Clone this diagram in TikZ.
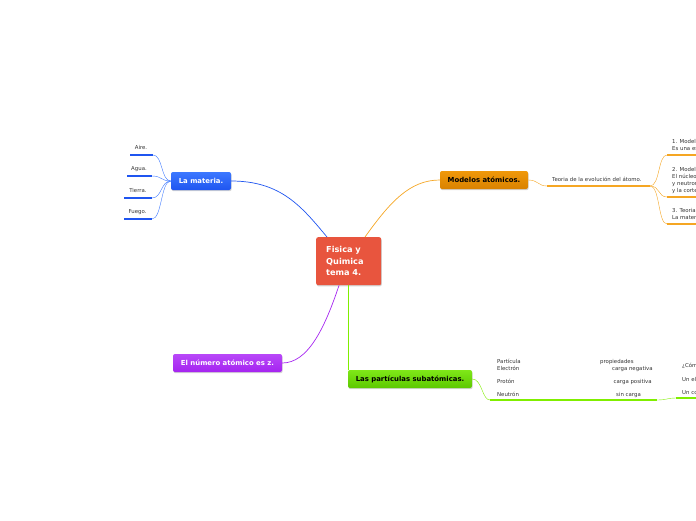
\documentclass[tikz,border=0pt]{standalone}
\usepackage{fontspec}
\setmainfont{DejaVu Sans}
\usetikzlibrary{shadows}
\definecolor{cblue}{HTML}{1F55F0}
\definecolor{cbluel}{HTML}{3C78FF}
\definecolor{corange}{HTML}{F5A623}
\definecolor{corb}{HTML}{D98200}
\definecolor{corl}{HTML}{F0980A}
\definecolor{cgreen}{HTML}{80EE00}
\definecolor{cgrb}{HTML}{5CC800}
\definecolor{cgrl}{HTML}{7FE818}
\definecolor{cpurp}{HTML}{A524F0}
\definecolor{cpurl}{HTML}{B848F8}
\definecolor{cred}{HTML}{E8553E}
\definecolor{txt}{HTML}{333333}
\tikzset{
  box/.style={rounded corners=2pt, minimum height=18pt, inner xsep=4pt, font=\fontsize{6.9}{7}\selectfont\bfseries,
    drop shadow={shadow xshift=0.6pt, shadow yshift=-1.2pt, opacity=0.35}},
  small/.style={font=\fontsize{5.4}{7}\selectfont, text=txt, inner sep=0pt},
  leaf/.style={line width=2pt},
  conn/.style={line width=0.7pt},
  thin/.style={line width=0.4pt}
}
\begin{document}
\begin{tikzpicture}[x=1pt,y=-1pt]
\useasboundingbox (0,0) rectangle (696,520);
\clip (0,0) rectangle (696,520);

% central
\node[box, fill=cred, text=white, minimum width=65pt, minimum height=48pt, align=left, anchor=north west, inner xsep=10pt,
  font=\fontsize{8.2}{11.5}\selectfont\bfseries, text width=45pt] (c) at (316,237) {Fisica y\\Quimica\\tema 4.};

% La materia
\node[box, top color=cbluel, bottom color=cblue, text=white, minimum width=60pt] (m) at (201,181) {La materia.};
\node[small, anchor=base] (t1) at (141,149.5) {Aire.};
\node[small, anchor=base] (t2) at (139,170.5) {Agua.};
\node[small, anchor=base] (t3) at (138,192) {Tierra.};
\node[small, anchor=base] (t4) at (137.5,213.5) {Fuego.};
\coordinate (l1a) at (130,155); \coordinate (l1b) at (153,155);
\coordinate (l2a) at (127,176); \coordinate (l2b) at (152,176);
\coordinate (l3a) at (124,198); \coordinate (l3b) at (152,198);
\coordinate (l4a) at (124,219); \coordinate (l4b) at (152,219);
\foreach \i in {1,2,3,4}{\draw[leaf, cblue] (l\i a) -- (l\i b);}
\foreach \i in {1,2,3,4}{\draw[thin, cbluel] (m.west) .. controls +(-10,0) and +(10,0) .. (l\i b);}
\draw[conn, cblue] (m.east) .. controls +(50,0) and +(-25,-30) .. ([xshift=11pt]c.north west);

% Modelos atomicos
\node[box, top color=corl, bottom color=corb, text=black, minimum width=88pt] (mo) at (484,180) {Modelos atómicos.};
\draw[conn, corange] ([xshift=49pt]c.north west) .. controls +(25,-35) and +(-30,0) .. (mo.west);
\node[small, anchor=base west] (te) at (552,181) {Teoria de la evolución del átomo.};
\coordinate (tea) at (547,186); \coordinate (teb) at (650,186);
\draw[leaf, corange] (tea) -- (teb);
\draw[thin, corange] (mo.east) .. controls +(10,0) and +(-9,0) .. (tea);
\coordinate (a1) at (667,155); \coordinate (a1e) at (700,155);
\coordinate (a2) at (667,197); \coordinate (a2e) at (700,197);
\coordinate (a3) at (667,224); \coordinate (a3e) at (700,224);
\foreach \i in {1,2,3}{\draw[leaf, corange] (a\i) -- (a\i e); \draw[thin, corange] (teb) .. controls +(10,0) and +(-9,0) .. (a\i);}
\node[small, anchor=base west, align=left] (s1) at (672,143) {1. Modelo de Dalton.};
\node[small, anchor=base west] (s1b) at (672,150) {Es una esfera};
\node[small, anchor=base west] (s2) at (672,171) {2. Modelo de Rutherford.};
\node[small, anchor=base west] (s2b) at (672,178) {El núcleo};
\node[small, anchor=base west] (s2c) at (672,185) {y neutrones};
\node[small, anchor=base west] (s2d) at (672,192) {y la corteza};
\node[small, anchor=base west] (s3) at (672,212) {3. Teoria};
\node[small, anchor=base west] (s3b) at (672,219) {La materia};

% Particulas
\node[box, top color=cgrl, bottom color=cgrb, text=black, minimum width=124pt] (p) at (410,379) {Las partículas subatómicas.};
\draw[conn, cgreen] ([xshift=32pt]c.south west) -- ([xshift=32pt]c.south west |- p.north);
\coordinate (pa) at (490,400); \coordinate (pb) at (657,400);
\draw[leaf, cgreen] (pa) -- (pb);
\draw[thin, cgreen] (p.east) .. controls +(10,0) and +(-8,0) .. (pa);
\node[small, anchor=base west] (q1) at (497,363) {Partícula};
\node[small, anchor=base west] (q2) at (497,370) {Electrón};
\node[small, anchor=base west] (q3) at (497,383) {Protón};
\node[small, anchor=base west] (q4) at (497,396) {Neutrón};
\node[small, anchor=base west] (r1) at (600,363) {propiedades};
\node[small, anchor=base west] (r2) at (612,370) {carga negativa};
\node[small, anchor=base west] (r3) at (613.5,383) {carga positiva};
\node[small, anchor=base west] (r4) at (616,396) {sin carga};
\coordinate (ga) at (676,398); \coordinate (gb) at (700,398);
\draw[leaf, cgreen] (ga) -- (gb);
\draw[thin, cgreen] (pb) .. controls +(10,0) and +(-9,0) .. (ga);
\node[small, anchor=base west] (u1) at (682,367) {¿Cómo};
\node[small, anchor=base west] (u2) at (682,381) {Un electrón};
\node[small, anchor=base west] (u3) at (682,394) {Un conjunto};

% Numero atomico
\node[box, top color=cpurl, bottom color=cpurp, text=white, minimum width=109pt] (n) at (227.5,363) {El número atómico es z.};
\draw[conn, cpurp] ([xshift=23pt]c.south west) .. controls +(-15,45) and +(25,0) .. (n.east);
\end{tikzpicture}
\end{document}
